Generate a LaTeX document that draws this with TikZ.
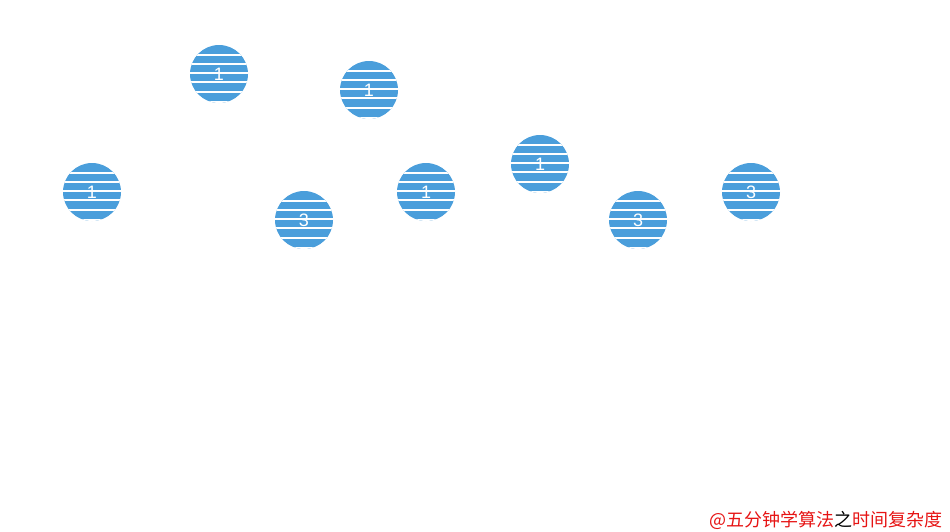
\documentclass[tikz,border=0pt]{standalone}
\usepackage{xcolor}
\usepackage{fontspec}
\usepackage{tikz}
\setmainfont{Liberation Sans}
\newfontfamily\cjkfont{Noto Sans CJK SC}
\definecolor{ballblue}{RGB}{74,158,219}
\definecolor{markred}{RGB}{230,20,20}

\begin{document}
\begin{tikzpicture}[
            x=1pt, y=-1pt,
            ball/.style={circle, fill=ballblue, minimum size=58pt, inner sep=0pt, text=white, font=\fontsize{18}{18}\selectfont,
                path picture={
                    \foreach \d in {-19.5,-10.2,-0.9,8.4,17.7}
                        \draw[white, line width=2pt] ([yshift=-\d pt]path picture bounding box.west) -- ([yshift=-\d pt]path picture bounding box.east);
                    \fill[white] ([yshift=2.5pt]path picture bounding box.south west) rectangle (path picture bounding box.south east);
                }},
            tag/.style={anchor=east, inner sep=0pt, font=\cjkfont\fontsize{18}{18}\selectfont}
        ]
            \useasboundingbox (0,0) rectangle (950,531);
            \node[ball] (b1) at (219,74) {1};
            \node[ball] (b2) at (369,90) {1};
            \node[ball] (b3) at (92,192) {1};
            \node[ball] (b4) at (304,220) {3};
            \node[ball] (b5) at (426,192) {1};
            \node[ball] (b6) at (540,164) {1};
            \node[ball] (b7) at (638,220) {3};
            \node[ball] (b8) at (751,192) {3};
            \node[tag] (mark) at (943,520) {\textcolor{markred}{@五分钟学算法}之\textcolor{markred}{时间复杂度}};
        \end{tikzpicture}
\end{document}
